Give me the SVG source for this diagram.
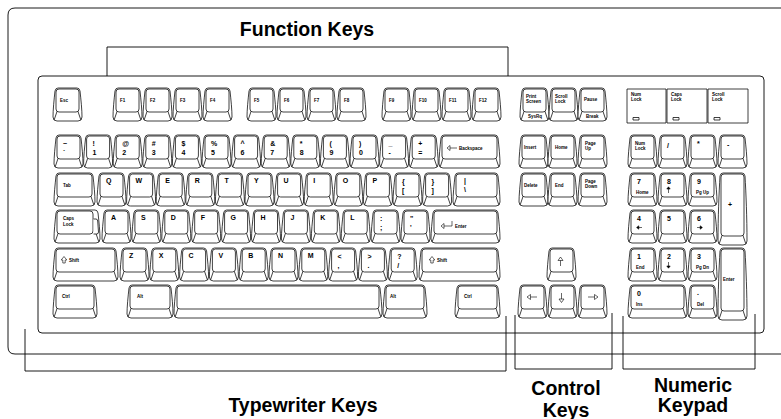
<svg xmlns="http://www.w3.org/2000/svg" xmlns:xlink="http://www.w3.org/1999/xlink" width="781" height="419" viewBox="0 0 781 419">
<style>
.k{fill:#fff;stroke:#000;stroke-width:0.75;stroke-linejoin:round}
.ln{fill:none;stroke:#000;stroke-width:0.9}
.fa{fill:#000;stroke:#000;stroke-width:0.6}
.oa{fill:#fff;stroke:#000;stroke-width:0.6}
text{font-family:"Liberation Sans",Arial,sans-serif;font-weight:bold;fill:#000}
.s{font-size:4.5px}
.c{font-size:7px}
.L{font-size:19.5px;text-anchor:middle}
</style>
<defs>
<path id="u" class="k" d="M5,0H24Q26.5,0 27,3C28,12 29,22 29,29Q29,33 25,33H4Q0,33 0,29C0,22 1,12 2,3Q2.5,0 5,0ZM6,1H23Q26,1 26,4V21Q26,24 23,24H6Q3,24 3,21V4Q3,1 6,1ZM4,23.5L1.2,31.8M25,23.5L27.8,31.8"/>
<path id="t" class="k" d="M5,0H24Q26.5,0 27,3C28,20 29,45 29,68Q29,72 25,72H4Q0,72 0,68C0,45 1,20 2,3Q2.5,0 5,0ZM6,1H23Q26,1 26,4V60Q26,63 23,63H6Q3,63 3,60V4Q3,1 6,1ZM4,62.5L1.2,70.8M25,62.5L27.8,70.8"/>
</defs>
<rect width="781" height="419" fill="#fff"/>
<g id="case">
<path class="ln" d="M781,8H15Q8,8 8,15V347Q8,354 15,354H781"/>
<rect class="ln" x="38" y="76" width="726" height="257" rx="4"/>
</g>
<g id="connectors">
<path class="ln" d="M107,76V47H508V76"/>
<path class="ln" d="M25,329V371H506V316"/>
<path class="ln" d="M515,315V369H612V313"/>
<path class="ln" d="M623,316V369H755V314"/>
</g>
<g id="labels">
<text class="L" x="307" y="35.5">Function Keys</text>
<text class="L" x="303" y="411.5">Typewriter Keys</text>
<text class="L" x="566" y="394.5">Control</text>
<text class="L" x="566" y="416.5">Keys</text>
<text class="L" x="693" y="391.5">Numeric</text>
<text class="L" x="693" y="411.5">Keypad</text>
</g>
<g id="function-row">
<g id="k-esc" transform="translate(53,88)"><use href="#u"/><text class="s" x="7" y="14">Esc</text></g>
<g id="k-f1" transform="translate(113,88)"><use href="#u"/><text class="s" x="7" y="14">F1</text></g>
<g id="k-f2" transform="translate(143,88)"><use href="#u"/><text class="s" x="7" y="14">F2</text></g>
<g id="k-f3" transform="translate(173,88)"><use href="#u"/><text class="s" x="7" y="14">F3</text></g>
<g id="k-f4" transform="translate(203,88)"><use href="#u"/><text class="s" x="7" y="14">F4</text></g>
<g id="k-f5" transform="translate(247,88)"><use href="#u"/><text class="s" x="7" y="14">F5</text></g>
<g id="k-f6" transform="translate(277,88)"><use href="#u"/><text class="s" x="7" y="14">F6</text></g>
<g id="k-f7" transform="translate(307,88)"><use href="#u"/><text class="s" x="7" y="14">F7</text></g>
<g id="k-f8" transform="translate(337,88)"><use href="#u"/><text class="s" x="7" y="14">F8</text></g>
<g id="k-f9" transform="translate(382,88)"><use href="#u"/><text class="s" x="7" y="14">F9</text></g>
<g id="k-f10" transform="translate(412,88)"><use href="#u"/><text class="s" x="7" y="14">F10</text></g>
<g id="k-f11" transform="translate(442,88)"><use href="#u"/><text class="s" x="7" y="14">F11</text></g>
<g id="k-f12" transform="translate(472,88)"><use href="#u"/><text class="s" x="7" y="14">F12</text></g>
<g id="k-prtsc" transform="translate(520,88)"><use href="#u"/><text class="s" x="6" y="10">Print</text><text class="s" x="6" y="15">Screen</text><text class="s" x="8" y="30">SysRq</text></g>
<g id="k-scrlk" transform="translate(549,88)"><use href="#u"/><text class="s" x="6" y="10">Scroll</text><text class="s" x="6" y="15">Lock</text></g>
<g id="k-pause" transform="translate(578,88)"><use href="#u"/><text class="s" x="6" y="13">Pause</text><text class="s" x="8" y="30">Break</text></g>
</g>
<g id="indicators">
<g id="led-num"><rect class="k" x="627" y="89" width="39" height="34"/><text class="s" x="631" y="95.5">Num</text><text class="s" x="631" y="100.5">Lock</text><rect class="k" x="633" y="117.5" width="6" height="2.5" fill="#ddd"/></g>
<g id="led-caps"><rect class="k" x="667" y="89" width="40" height="34"/><text class="s" x="671" y="95.5">Caps</text><text class="s" x="671" y="100.5">Lock</text><rect class="k" x="673" y="117.5" width="6" height="2.5"/></g>
<g id="led-scroll"><rect class="k" x="708" y="89" width="40" height="34"/><text class="s" x="712" y="95.5">Scroll</text><text class="s" x="712" y="100.5">Lock</text><rect class="k" x="714" y="117.5" width="6" height="2.5"/></g>
</g>
<g id="typewriter-keys">
<g id="k-grave" transform="translate(54,135)"><use href="#u"/><text class="c" x="9" y="11">~</text><text class="c" x="9" y="20">`</text></g>
<g id="k-1" transform="translate(83.6,135)"><use href="#u"/><text class="c" x="9" y="11">!</text><text class="c" x="9" y="20">1</text></g>
<g id="k-2" transform="translate(113.2,135)"><use href="#u"/><text class="c" x="9" y="11">@</text><text class="c" x="9" y="20">2</text></g>
<g id="k-3" transform="translate(142.8,135)"><use href="#u"/><text class="c" x="9" y="11">#</text><text class="c" x="9" y="20">3</text></g>
<g id="k-4" transform="translate(172.4,135)"><use href="#u"/><text class="c" x="9" y="11">$</text><text class="c" x="9" y="20">4</text></g>
<g id="k-5" transform="translate(202,135)"><use href="#u"/><text class="c" x="9" y="11">%</text><text class="c" x="9" y="20">5</text></g>
<g id="k-6" transform="translate(231.6,135)"><use href="#u"/><text class="c" x="9" y="11">^</text><text class="c" x="9" y="20">6</text></g>
<g id="k-7" transform="translate(261.2,135)"><use href="#u"/><text class="c" x="9" y="11">&amp;</text><text class="c" x="9" y="20">7</text></g>
<g id="k-8" transform="translate(290.8,135)"><use href="#u"/><text class="c" x="9" y="11">*</text><text class="c" x="9" y="20">8</text></g>
<g id="k-9" transform="translate(320.4,135)"><use href="#u"/><text class="c" x="9" y="11">(</text><text class="c" x="9" y="20">9</text></g>
<g id="k-0" transform="translate(350,135)"><use href="#u"/><text class="c" x="9" y="11">)</text><text class="c" x="9" y="20">0</text></g>
<g id="k-minus" transform="translate(379.6,135)"><use href="#u"/><text class="c" x="9" y="11">_</text><text class="c" x="9" y="20">-</text></g>
<g id="k-equal" transform="translate(409.2,135)"><use href="#u"/><text class="c" x="9" y="11">+</text><text class="c" x="9" y="20">=</text></g>
<g id="k-backspace" transform="translate(439,135)"><path class="k" d="M5,0H56Q58.5,0 59,3C60,12 61,22 61,29Q61,33 57,33H4Q0,33 0,29C0,22 1,12 2,3Q2.5,0 5,0ZM6,1H55Q58,1 58,4V21Q58,24 55,24H6Q3,24 3,21V4Q3,1 6,1ZM4,23.5L1.2,31.8M57,23.5L59.8,31.8"/><path class="oa" d="M8,13L11,10.5V15.5ZM11,13H18"/><text class="s" x="20" y="14.5">Backspace</text></g>
<g id="k-tab" transform="translate(54,173)"><path class="k" d="M5,0H36Q38.5,0 39,3C40,12 41,22 41,29Q41,33 37,33H4Q0,33 0,29C0,22 1,12 2,3Q2.5,0 5,0ZM6,1H35Q38,1 38,4V21Q38,24 35,24H6Q3,24 3,21V4Q3,1 6,1ZM4,23.5L1.2,31.8M37,23.5L39.8,31.8"/><text class="s" x="9" y="14">Tab</text></g>
<g id="k-q" transform="translate(97,173)"><use href="#u"/><text class="c" x="9" y="10">Q</text></g>
<g id="k-w" transform="translate(126.6,173)"><use href="#u"/><text class="c" x="9" y="10">W</text></g>
<g id="k-e" transform="translate(156.2,173)"><use href="#u"/><text class="c" x="9" y="10">E</text></g>
<g id="k-r" transform="translate(185.8,173)"><use href="#u"/><text class="c" x="9" y="10">R</text></g>
<g id="k-t" transform="translate(215.4,173)"><use href="#u"/><text class="c" x="9" y="10">T</text></g>
<g id="k-y" transform="translate(245,173)"><use href="#u"/><text class="c" x="9" y="10">Y</text></g>
<g id="k-u" transform="translate(274.6,173)"><use href="#u"/><text class="c" x="9" y="10">U</text></g>
<g id="k-i" transform="translate(304.2,173)"><use href="#u"/><text class="c" x="9" y="10">I</text></g>
<g id="k-o" transform="translate(333.8,173)"><use href="#u"/><text class="c" x="9" y="10">O</text></g>
<g id="k-p" transform="translate(363.4,173)"><use href="#u"/><text class="c" x="9" y="10">P</text></g>
<g id="k-lbracket" transform="translate(393,173)"><use href="#u"/><text class="c" x="9" y="11">{</text><text class="c" x="9" y="20">[</text></g>
<g id="k-rbracket" transform="translate(422.6,173)"><use href="#u"/><text class="c" x="9" y="11">}</text><text class="c" x="9" y="20">]</text></g>
<g id="k-backslash" transform="translate(453,173)"><path class="k" d="M5,0H42Q44.5,0 45,3C46,12 47,22 47,29Q47,33 43,33H4Q0,33 0,29C0,22 1,12 2,3Q2.5,0 5,0ZM6,1H41Q44,1 44,4V21Q44,24 41,24H6Q3,24 3,21V4Q3,1 6,1ZM4,23.5L1.2,31.8M43,23.5L45.8,31.8"/><text class="c" x="11" y="10">|</text><text class="c" x="11" y="19">\</text></g>
<g id="k-caps" transform="translate(54,210)"><path class="k" d="M5,0H41Q43.5,0 44,3C45,12 46,22 46,29Q46,33 42,33H4Q0,33 0,29C0,22 1,12 2,3Q2.5,0 5,0ZM6,1H36Q39,1 39,4V21Q39,24 36,24H6Q3,24 3,21V4Q3,1 6,1ZM4,23.5L1.2,31.8M42,23.5L44.8,31.8"/><path class="k" d="M39.5,9H42Q43.5,9 43.7,11L44.5,22Q44.6,24 42.5,24H39.5"/><text class="s" x="9" y="10">Caps</text><text class="s" x="9" y="15.5">Lock</text></g>
<g id="k-a" transform="translate(102,210)"><use href="#u"/><text class="c" x="9" y="10">A</text></g>
<g id="k-s" transform="translate(131.9,210)"><use href="#u"/><text class="c" x="9" y="10">S</text></g>
<g id="k-d" transform="translate(161.8,210)"><use href="#u"/><text class="c" x="9" y="10">D</text></g>
<g id="k-f" transform="translate(191.7,210)"><use href="#u"/><text class="c" x="9" y="10">F</text></g>
<g id="k-g" transform="translate(221.6,210)"><use href="#u"/><text class="c" x="9" y="10">G</text></g>
<g id="k-h" transform="translate(251.5,210)"><use href="#u"/><text class="c" x="9" y="10">H</text></g>
<g id="k-j" transform="translate(281.4,210)"><use href="#u"/><text class="c" x="9" y="10">J</text></g>
<g id="k-k" transform="translate(311.3,210)"><use href="#u"/><text class="c" x="9" y="10">K</text></g>
<g id="k-l" transform="translate(341.2,210)"><use href="#u"/><text class="c" x="9" y="10">L</text></g>
<g id="k-semicolon" transform="translate(371.1,210)"><use href="#u"/><text class="c" x="9" y="11">:</text><text class="c" x="9" y="20">;</text></g>
<g id="k-quote" transform="translate(401,210)"><use href="#u"/><text class="c" x="9" y="11">"</text><text class="c" x="9" y="20">'</text></g>
<g id="k-enter" transform="translate(431,210)"><path class="k" d="M5,0H64Q66.5,0 67,3C68,12 69,22 69,29Q69,33 65,33H4Q0,33 0,29C0,22 1,12 2,3Q2.5,0 5,0ZM6,1H63Q66,1 66,4V21Q66,24 63,24H6Q3,24 3,21V4Q3,1 6,1ZM4,23.5L1.2,31.8M65,23.5L67.8,31.8"/><path class="oa" d="M10,16L13,13.5V18.5ZM13,16H21V11"/><text class="s" x="24" y="17.5">Enter</text></g>
<g id="k-lshift" transform="translate(53,248)"><path class="k" d="M5,0H60Q62.5,0 63,3C64,12 65,22 65,29Q65,33 61,33H4Q0,33 0,29C0,22 1,12 2,3Q2.5,0 5,0ZM6,1H59Q62,1 62,4V21Q62,24 59,24H6Q3,24 3,21V4Q3,1 6,1ZM4,23.5L1.2,31.8M61,23.5L63.8,31.8"/><path class="oa" d="M9.8,15V12H8.2L11,8.5L13.8,12H12.2V15Z"/><text class="s" x="16" y="14">Shift</text></g>
<g id="k-z" transform="translate(120,248)"><use href="#u"/><text class="c" x="9" y="10">Z</text></g>
<g id="k-x" transform="translate(149.8,248)"><use href="#u"/><text class="c" x="9" y="10">X</text></g>
<g id="k-c" transform="translate(179.6,248)"><use href="#u"/><text class="c" x="9" y="10">C</text></g>
<g id="k-v" transform="translate(209.4,248)"><use href="#u"/><text class="c" x="9" y="10">V</text></g>
<g id="k-b" transform="translate(239.2,248)"><use href="#u"/><text class="c" x="9" y="10">B</text></g>
<g id="k-n" transform="translate(269,248)"><use href="#u"/><text class="c" x="9" y="10">N</text></g>
<g id="k-m" transform="translate(298.8,248)"><use href="#u"/><text class="c" x="9" y="10">M</text></g>
<g id="k-comma" transform="translate(328.6,248)"><use href="#u"/><text class="c" x="9" y="11">&lt;</text><text class="c" x="9" y="20">,</text></g>
<g id="k-period" transform="translate(358.4,248)"><use href="#u"/><text class="c" x="9" y="11">&gt;</text><text class="c" x="9" y="20">.</text></g>
<g id="k-slash" transform="translate(388.2,248)"><use href="#u"/><text class="c" x="9" y="11">?</text><text class="c" x="9" y="20">/</text></g>
<g id="k-rshift" transform="translate(419,248)"><path class="k" d="M5,0H76Q78.5,0 79,3C80,12 81,22 81,29Q81,33 77,33H4Q0,33 0,29C0,22 1,12 2,3Q2.5,0 5,0ZM6,1H75Q78,1 78,4V21Q78,24 75,24H6Q3,24 3,21V4Q3,1 6,1ZM4,23.5L1.2,31.8M77,23.5L79.8,31.8"/><path class="oa" d="M11.8,15V12H10.2L13,8.5L15.8,12H14.2V15Z"/><text class="s" x="18" y="14">Shift</text></g>
<g id="k-lctrl" transform="translate(53,285)"><path class="k" d="M5,0H39Q41.5,0 42,3C43,12 44,22 44,29Q44,33 40,33H4Q0,33 0,29C0,22 1,12 2,3Q2.5,0 5,0ZM6,1H38Q41,1 41,4V21Q41,24 38,24H6Q3,24 3,21V4Q3,1 6,1ZM4,23.5L1.2,31.8M40,23.5L42.8,31.8"/><text class="s" x="9" y="13">Ctrl</text></g>
<g id="k-lalt" transform="translate(127,285)"><path class="k" d="M5,0H41Q43.5,0 44,3C45,12 46,22 46,29Q46,33 42,33H4Q0,33 0,29C0,22 1,12 2,3Q2.5,0 5,0ZM6,1H40Q43,1 43,4V21Q43,24 40,24H6Q3,24 3,21V4Q3,1 6,1ZM4,23.5L1.2,31.8M42,23.5L44.8,31.8"/><text class="s" x="10" y="13">Alt</text></g>
<g id="k-space" transform="translate(174,285)"><path class="k" d="M5,0H203Q205.5,0 206,3C207,12 208,22 208,29Q208,33 204,33H4Q0,33 0,29C0,22 1,12 2,3Q2.5,0 5,0ZM6,1H202Q205,1 205,4V21Q205,24 202,24H6Q3,24 3,21V4Q3,1 6,1ZM4,23.5L1.2,31.8M204,23.5L206.8,31.8"/></g>
<g id="k-ralt" transform="translate(383,285)"><path class="k" d="M5,0H39Q41.5,0 42,3C43,12 44,22 44,29Q44,33 40,33H4Q0,33 0,29C0,22 1,12 2,3Q2.5,0 5,0ZM6,1H38Q41,1 41,4V21Q41,24 38,24H6Q3,24 3,21V4Q3,1 6,1ZM4,23.5L1.2,31.8M40,23.5L42.8,31.8"/><text class="s" x="7" y="13">Alt</text></g>
<g id="k-rctrl" transform="translate(455,285)"><path class="k" d="M5,0H40Q42.5,0 43,3C44,12 45,22 45,29Q45,33 41,33H4Q0,33 0,29C0,22 1,12 2,3Q2.5,0 5,0ZM6,1H39Q42,1 42,4V21Q42,24 39,24H6Q3,24 3,21V4Q3,1 6,1ZM4,23.5L1.2,31.8M41,23.5L43.8,31.8"/><text class="s" x="9" y="13">Ctrl</text></g>
</g>
<g id="control-keys">
<g id="k-insert" transform="translate(519,135)"><use href="#u"/><text class="s" x="5" y="14">Insert</text></g>
<g id="k-home" transform="translate(548,135)"><use href="#u"/><text class="s" x="7" y="14">Home</text></g>
<g id="k-pgup" transform="translate(578,135)"><use href="#u"/><text class="s" x="7" y="10">Page</text><text class="s" x="7" y="15">Up</text></g>
<g id="k-delete" transform="translate(519,173)"><use href="#u"/><text class="s" x="5" y="14">Delete</text></g>
<g id="k-end" transform="translate(548,173)"><use href="#u"/><text class="s" x="7" y="14">End</text></g>
<g id="k-pgdn" transform="translate(578,173)"><use href="#u"/><text class="s" x="7" y="10">Page</text><text class="s" x="7" y="15">Down</text></g>
<g id="k-up" transform="translate(547,248)"><use href="#u"/><path class="oa" d="M13.5,9L11,12.5H16ZM13.5,12.5V18"/></g>
<g id="k-left" transform="translate(518,285)"><use href="#u"/><path class="oa" d="M9,12L12.5,9.5V14.5ZM12.5,12H19"/></g>
<g id="k-down" transform="translate(548,285)"><use href="#u"/><path class="oa" d="M13.5,17.5L11,14H16ZM13.5,14V8"/></g>
<g id="k-right" transform="translate(578,285)"><use href="#u"/><path class="oa" d="M20,12L16.5,9.5V14.5ZM16.5,12H10"/></g>
</g>
<g id="numeric-keypad">
<g id="k-numlock" transform="translate(628,135)"><use href="#u"/><text class="s" x="7" y="10">Num</text><text class="s" x="7" y="15">Lock</text></g>
<g id="k-kpslash" transform="translate(658,135)"><use href="#u"/><text class="c" x="9" y="13">/</text></g>
<g id="k-kpstar" transform="translate(688,135)"><use href="#u"/><text class="c" x="9" y="11">*</text></g>
<g id="k-kpminus" transform="translate(718,135)"><use href="#u"/><text class="c" x="9" y="12">-</text></g>
<g id="k-kp7" transform="translate(628,173)"><use href="#u"/><text class="c" x="9" y="11">7</text><text class="s" x="8" y="20.5">Home</text></g>
<g id="k-kp8" transform="translate(658,173)"><use href="#u"/><text class="c" x="9" y="11">8</text><path class="fa" d="M10.5,20V15M8.8,16L10.5,13.8L12.2,16Z"/></g>
<g id="k-kp9" transform="translate(688,173)"><use href="#u"/><text class="c" x="9" y="11">9</text><text class="s" x="8" y="20.5">Pg Up</text></g>
<g id="k-kpplus" transform="translate(718,173)"><use href="#t"/><text class="c" x="10" y="34">+</text></g>
<g id="k-kp4" transform="translate(628,210)"><use href="#u"/><text class="c" x="9" y="11">4</text><path class="fa" d="M9,17.5H14M10.8,15.8L8.6,17.5L10.8,19.2Z"/></g>
<g id="k-kp5" transform="translate(658,210)"><use href="#u"/><text class="c" x="9" y="11">5</text></g>
<g id="k-kp6" transform="translate(688,210)"><use href="#u"/><text class="c" x="9" y="11">6</text><path class="fa" d="M9,17.5H14M12.2,15.8L14.4,17.5L12.2,19.2Z"/></g>
<g id="k-kp1" transform="translate(628,248)"><use href="#u"/><text class="c" x="9" y="11">1</text><text class="s" x="8" y="20.5">End</text></g>
<g id="k-kp2" transform="translate(658,248)"><use href="#u"/><text class="c" x="9" y="11">2</text><path class="fa" d="M10.5,14V19M8.8,18L10.5,20.2L12.2,18Z"/></g>
<g id="k-kp3" transform="translate(688,248)"><use href="#u"/><text class="c" x="9" y="11">3</text><text class="s" x="8" y="20.5">Pg Dn</text></g>
<g id="k-kpenter" transform="translate(718,248)"><use href="#t"/><text class="s" x="5" y="33">Enter</text></g>
<g id="k-kp0" transform="translate(628,285)"><path class="k" d="M5,0H54Q56.5,0 57,3C58,12 59,22 59,29Q59,33 55,33H4Q0,33 0,29C0,22 1,12 2,3Q2.5,0 5,0ZM6,1H53Q56,1 56,4V21Q56,24 53,24H6Q3,24 3,21V4Q3,1 6,1ZM4,23.5L1.2,31.8M55,23.5L57.8,31.8"/><text class="c" x="9" y="11">0</text><text class="s" x="8" y="21">Ins</text></g>
<g id="k-kpdot" transform="translate(688,285)"><use href="#u"/><text class="c" x="9" y="10">.</text><text class="s" x="9" y="21">Del</text></g>
</g>
</svg>
